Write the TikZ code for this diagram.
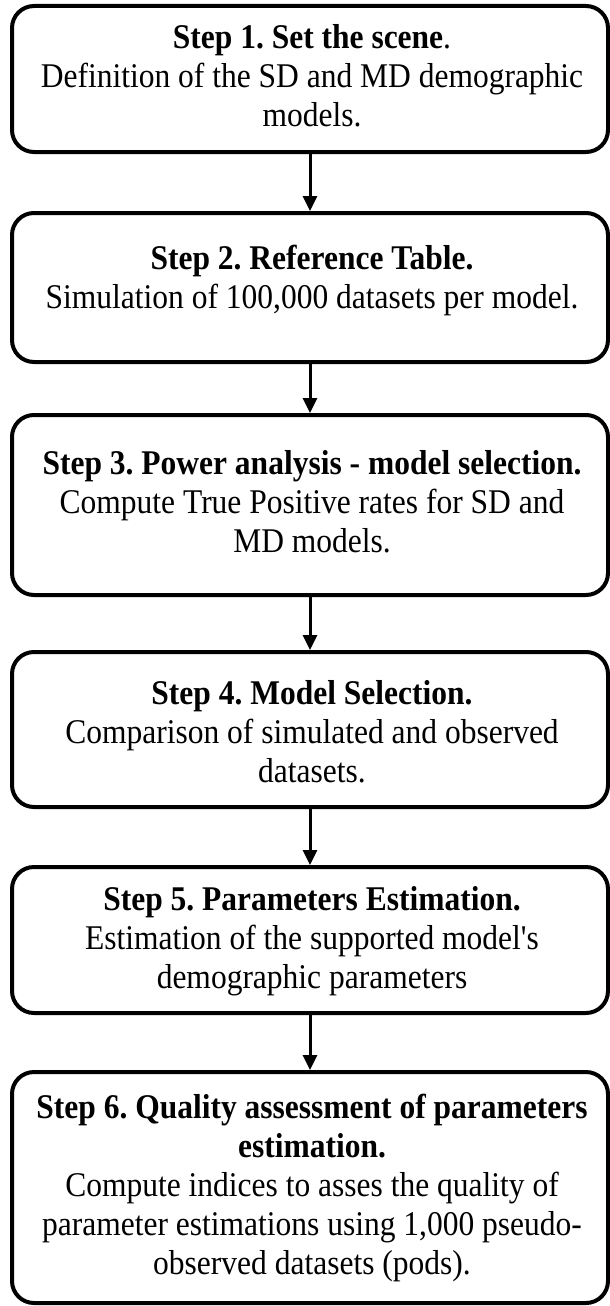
\documentclass[tikz,border=0pt]{standalone}
\usepackage{graphicx}
\usepackage{fontspec}
\setmainfont{Liberation Serif}
\usetikzlibrary{arrows.meta}
\newcommand\steptext[1]{\scalebox{1}[1.1]{\begin{tabular}{@{}c@{}}#1\end{tabular}}}
\begin{document}
\begin{tikzpicture}[x=1pt,y=1pt,
  stepbox/.style={draw=black, line width=4pt, rounded corners=22pt,
    minimum width=596pt, inner sep=0pt},
  txt/.style={inner sep=0pt,
    font=\fontsize{31.5}{35.5}\selectfont\frenchspacing},
  arr/.style={line width=3pt, -{Triangle[length=15pt,width=14pt]}}]
\useasboundingbox (0,0) rectangle (610,-1306);
\node[stepbox, minimum height=146pt] (b1) at (310,-79) {};
\node[stepbox, minimum height=149pt] (b2) at (310,-287.5) {};
\node[stepbox, minimum height=180pt] (b3) at (310,-505) {};
\node[stepbox, minimum height=155pt] (b4) at (310,-729.5) {};
\node[stepbox, minimum height=146pt] (b5) at (310,-940) {};
\node[stepbox, minimum height=231pt] (b6) at (310,-1187.5) {};
\node[txt] (t1) at (312,-80) {\steptext{\textbf{Step 1. Set the scene}.\\Definition of the SD and MD demographic\\models.}};
\node[txt] (t2) at (312,-281) {\steptext{\textbf{Step 2. Reference Table.}\\Simulation of 100,000 datasets per model.}};
\node[txt] (t3) at (312,-506) {\steptext{\textbf{Step 3. Power analysis - model selection.}\\Compute True Positive rates for SD and\\MD models.}};
\node[txt] (t4) at (312,-736) {\steptext{\textbf{Step 4. Model Selection.}\\Comparison of simulated and observed\\datasets.}};
\node[txt] (t5) at (312,-942) {\steptext{\textbf{Step 5. Parameters Estimation.}\\Estimation of the supported model\textquotesingle s\\demographic parameters}};
\node[txt] (t6) at (312,-1189) {\steptext{\textbf{Step 6. Quality assessment of parameters}\\\textbf{estimation.}\\Compute indices to asses the quality of\\parameter estimations using 1,000 pseudo-\\observed datasets (pods).}};
\draw[arr] (b1.south) -- (b2.north);
\draw[arr] (b2.south) -- (b3.north);
\draw[arr] (b3.south) -- (b4.north);
\draw[arr] (b4.south) -- (b5.north);
\draw[arr] (b5.south) -- (b6.north);
\end{tikzpicture}
\end{document}
